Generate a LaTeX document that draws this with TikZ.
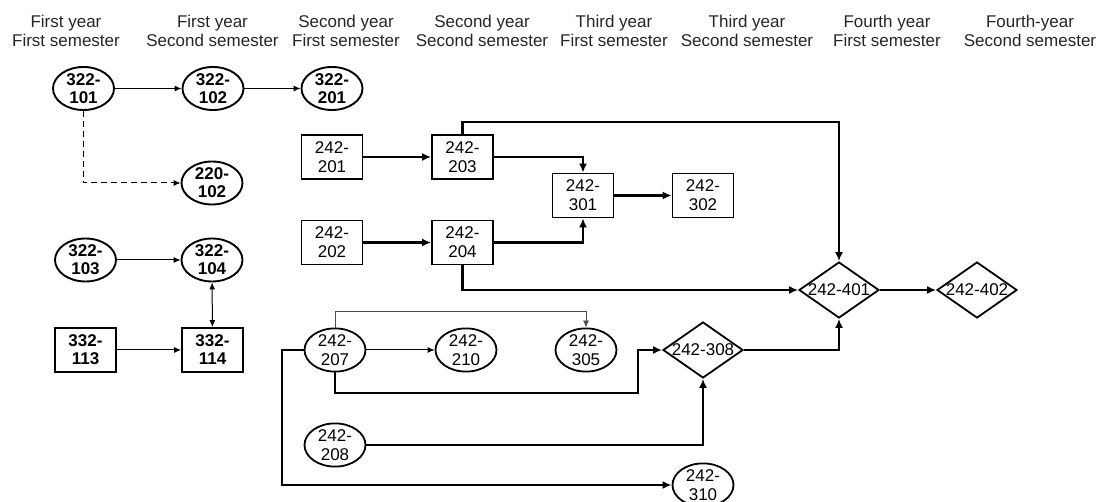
\documentclass[tikz,border=0pt]{standalone}
\usepackage{fontspec}
\setmainfont{Liberation Sans}
\usetikzlibrary{shapes.geometric,arrows.meta}
\tikzset{
  hdr/.style={align=center,font=\fontsize{17}{19}\selectfont,text=black!85,inner sep=0},
  bell/.style={ellipse,draw,line width=1.9pt,minimum width=61pt,minimum height=43pt,inner sep=0,align=center,font=\fontsize{17}{18}\selectfont\bfseries},
  bbox/.style={rectangle,draw,line width=1.9pt,minimum width=61pt,minimum height=44pt,inner sep=0,align=center,font=\fontsize{17}{18}\selectfont\bfseries},
  rbox/.style={rectangle,draw,line width=1.8pt,minimum width=61pt,minimum height=44pt,inner sep=0,align=center,font=\fontsize{17}{19}\selectfont},
  rell/.style={ellipse,draw,line width=1.8pt,minimum width=61pt,minimum height=43pt,inner sep=0,align=center,font=\fontsize{17}{18.5}\selectfont},
  dia/.style={diamond,draw,line width=1.8pt,aspect=1.43,minimum width=80pt,minimum height=56pt,inner sep=0,font=\fontsize{17}{17}\selectfont},
  thin/.style={line width=1pt,-{Latex[length=7pt,width=6pt]}},
  thk/.style={line width=2.6pt,-{Latex[length=9pt,width=8pt]}},
}
\begin{document}
\begin{tikzpicture}[x=1pt,y=-1pt]
\useasboundingbox (0,0) rectangle (1106,502);
% headers
\node[hdr] (h1) at (66,30.5) {First year\\First semester};
\node[hdr] (h2) at (212.5,30.5) {First year\\Second semester};
\node[hdr] (h3) at (346,30.5) {Second year\\First semester};
\node[hdr] (h4) at (482,30.5) {Second year\\Second semester};
\node[hdr] (h5) at (614,30.5) {Third year\\First semester};
\node[hdr] (h6) at (747,30.5) {Third year\\Second semester};
\node[hdr] (h7) at (887,30.5) {Fourth year\\First semester};
\node[hdr] (h8) at (1030,30.5) {Fourth-year\\Second semester};
% bold ellipses / boxes
\node[bell] (a101) at (83.5,88.5) {322-\\101};
\node[bell] (a102) at (213,88.5) {322-\\102};
\node[bell] (a201) at (332,88.5) {322-\\201};
\node[bell] (b102) at (212,183) {220-\\102};
\node[bell] (c103) at (85.5,260) {322-\\103};
\node[bell] (c104) at (212,260) {322-\\104};
\node[bbox] (d113) at (85.5,350) {332-\\113};
\node[bbox] (d114) at (212.5,350) {332-\\114};
% regular boxes
\node[rbox] (e201) at (332,157) {242-\\201};
\node[rbox] (e203) at (462.5,157) {242-\\203};
\node[rbox] (e301) at (583,195.5) {242-\\301};
\node[rbox] (e302) at (703,195.5) {242-\\302};
\node[rbox] (e202) at (332,242.5) {242-\\202};
\node[rbox] (e204) at (462.5,242.5) {242-\\204};
% diamonds
\node[dia] (f401) at (839,290) {242-401};
\node[dia] (f402) at (977,290) {242-402};
\node[dia] (f308) at (703,350) {242-308};
% regular ellipses
\node[rell] (g207) at (335,350) {242-\\207};
\node[rell] (g210) at (466,350) {242-\\210};
\node[rell] (g305) at (586,350) {242-\\305};
\node[rell] (g208) at (335,445) {242-\\208};
\node[rell,minimum height=40pt] (g310) at (703,485) {242-\\310};
% thin connectors
\draw[thin] (a101) -- (a102);
\draw[thin] (a102) -- (a201);
\draw[thin,dashed,dash pattern=on 6pt off 4pt] (a101.south) |- (b102.west);
\draw[thin] (c103) -- (c104);
\draw[line width=1pt,{Latex[length=7pt,width=6pt]}-{Latex[length=7pt,width=6pt]}] (c104) -- (d114);
\draw[thin] (d113) -- (d114);
\draw[thin] (g207) -- (g210);
\draw[line width=0.8pt,black!70,-{Latex[length=7pt,width=6pt]}] (g207.north) -- (g207.north |- 0,311) -| (g305.north);
% thick connectors
\draw[thk] (e201) -- (e203);
\draw[thk] (e202) -- (e204);
\draw[thk] (e203.east) -| (e301.north);
\draw[thk] (e204.east) -| (e301.south);
\draw[thk] (e301) -- (e302);
\draw[thk] (e203.north) -- (e203.north |- 0,122) -| (f401.north);
\draw[thk] (e204.south) |- (f401.west);
\draw[thk] (f401) -- (f402);
\draw[thk] (g207.south) -- (g207.south |- 0,393) -- (638,393) -- (638,350) -- (f308.west);
\draw[thk] (g208.east) -| (f308.south);
\draw[thk] (g207.west) -- (282,350) |- (g310.west);
\draw[thk] (f308.east) -| (f401.south);
\end{tikzpicture}
\end{document}
